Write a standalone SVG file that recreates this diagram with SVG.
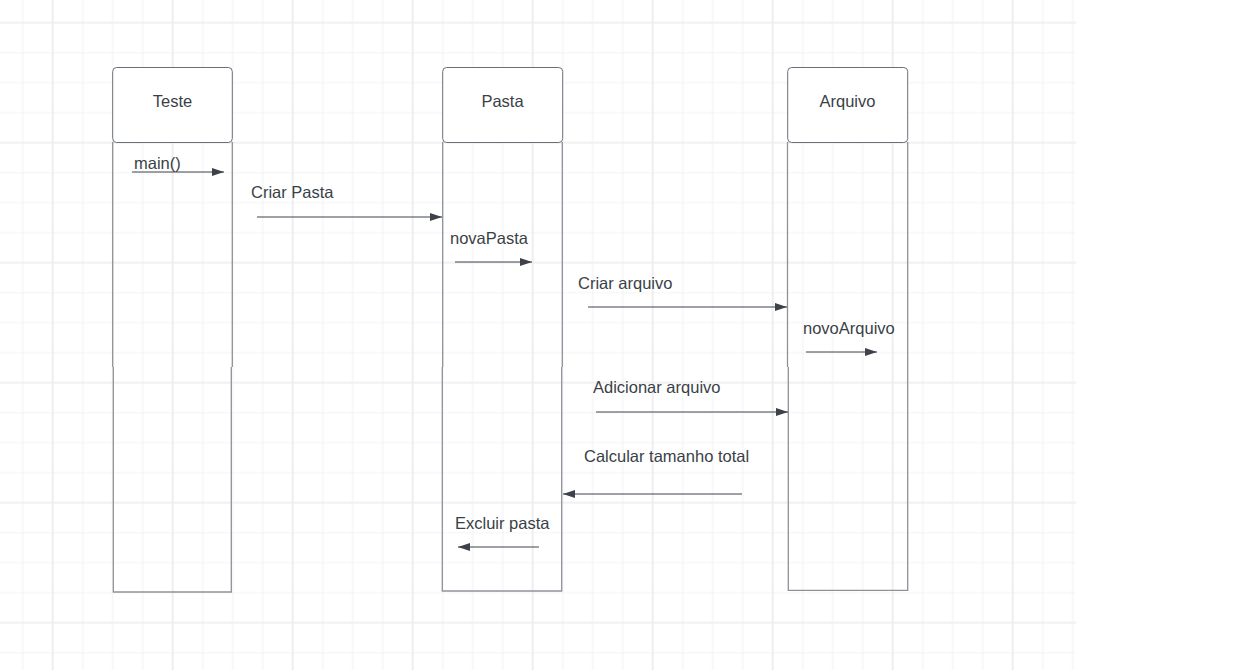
<svg xmlns="http://www.w3.org/2000/svg" width="1243" height="670" viewBox="0 0 1243 670">
<defs>
<pattern id="minor" patternUnits="userSpaceOnUse" x="7.7" y="7.7" width="30" height="30">
<path d="M15 0V30M0 15H30" stroke="#f3f3f4" stroke-width="1.2" fill="none"/>
</pattern>
<pattern id="major" patternUnits="userSpaceOnUse" x="-7.3" y="-37.3" width="120" height="120">
<path d="M60 0V120M0 60H120" stroke="#eaeaeb" stroke-width="1.2" fill="none"/>
</pattern>
<marker id="ah" viewBox="0 0 12 8" refX="12" refY="4" markerWidth="12" markerHeight="8" markerUnits="userSpaceOnUse" orient="auto">
<path d="M0 0L12 4L0 8Z" fill="#3d424a"/>
</marker>
</defs>
<style>
.hd{fill:#ffffff;stroke:#6a6f77;stroke-width:1}
.ll{fill:none;stroke:#8e9298;stroke-width:1.3}
.t{font-family:"Liberation Sans",Arial,sans-serif;font-size:16.5px;fill:#3a3f47}
.msg{stroke:#3d424a;stroke-width:1;fill:none;marker-end:url(#ah)}
</style>
<rect width="1243" height="670" fill="#ffffff"/>
<rect x="0" y="0" width="1076" height="670" fill="url(#minor)"/>
<rect x="0" y="0" width="1076" height="670" fill="url(#major)"/>

<g id="teste">
<path class="ll" d="M112.7 142V367M232.3 142V367"/>
<path class="ll" d="M113.3 367V592H231.3V367"/>
<rect class="hd" x="112.7" y="67.5" width="119.6" height="75" rx="4"/>
<text class="t" x="172.5" y="107" text-anchor="middle">Teste</text>
</g>

<g id="pasta">
<path class="ll" d="M442.7 142V367M562.3 142V367"/>
<path class="ll" d="M442.3 367V591H561.7V367"/>
<rect class="hd" x="442.7" y="67.5" width="120" height="75" rx="4"/>
<text class="t" x="502.5" y="107" text-anchor="middle">Pasta</text>
</g>

<g id="arquivo">
<path class="ll" d="M787.5 142V367M907.7 142V367"/>
<path class="ll" d="M788.3 367V590.3H907.7V367"/>
<rect class="hd" x="787.7" y="67.5" width="120" height="75" rx="4"/>
<text class="t" x="847.5" y="107" text-anchor="middle">Arquivo</text>
</g>

<g id="connectors">
<path class="msg" d="M132 172H224"/>
<text class="t" x="134" y="169">main()</text>
<path class="msg" d="M257 217H442"/>
<text class="t" x="251" y="198">Criar Pasta</text>
<path class="msg" d="M455 262H532"/>
<text class="t" x="450" y="244">novaPasta</text>
<path class="msg" d="M588 307H787"/>
<text class="t" x="578" y="289">Criar arquivo</text>
<path class="msg" d="M806 352H877"/>
<text class="t" x="803" y="334">novoArquivo</text>
<path class="msg" d="M596 412H788"/>
<text class="t" x="593" y="393">Adicionar arquivo</text>
<path class="msg" d="M742 494H563"/>
<text class="t" x="584" y="462">Calcular tamanho total</text>
<path class="msg" d="M539 547H458"/>
<text class="t" x="455" y="529">Excluir pasta</text>
</g>
</svg>
